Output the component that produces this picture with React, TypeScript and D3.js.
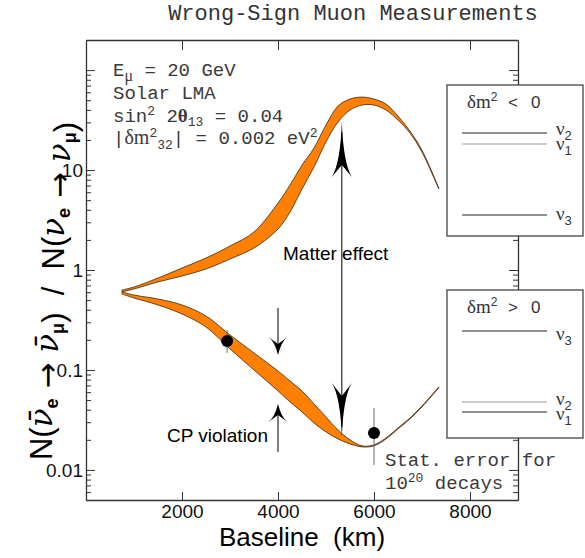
import React, { useRef, useEffect } from 'react';
import * as d3 from 'd3';

// Baseline grid (km) shared by both bands
const baselineKm = [750, 1000, 1500, 2000, 2500, 3000, 3500, 4000, 4250, 4500, 4750, 5000, 5250, 5500, 5750, 6000, 6250, 6500, 6750, 7000, 7350];

// dm^2 < 0 band (upper)
const invertedHigh = [0.63, 0.676, 0.832, 1.047, 1.318, 1.738, 2.4, 4.68, 7.08, 11.2, 16.6, 28.2, 43.7, 51.3, 53.7, 51.3, 45.7, 34.7, 24.5, 15.8, 6.6];
const invertedLow = [0.603, 0.646, 0.759, 0.871, 1.023, 1.288, 1.66, 2.57, 3.8, 6.46, 10.7, 19.1, 30.2, 39.8, 44.7, 44.7, 39.8, 31.6, 23.4, 15.1, 6.46];

// dm^2 > 0 band (lower)
const normalHigh = [0.603, 0.562, 0.513, 0.447, 0.347, 0.224, 0.148, 0.0977, 0.0776, 0.0617, 0.0457, 0.0339, 0.0251, 0.02, 0.0174, 0.0178, 0.0209, 0.0263, 0.0331, 0.0437, 0.0676];
const normalLow = [0.575, 0.525, 0.447, 0.363, 0.269, 0.162, 0.1, 0.0617, 0.0479, 0.038, 0.0295, 0.024, 0.0204, 0.0182, 0.017, 0.0174, 0.0204, 0.0257, 0.0324, 0.0427, 0.0661];

// measured points with stat. errors
const measuredKm = [2940, 6000];
const measuredRatio = [0.195, 0.0234];
const measuredErrLow = [0.148, 0.0112];
const measuredErrHigh = [0.25, 0.0417];

// annotation arrows
const matterArrowKm = 5330;
const matterArrowSpan = [0.0214, 30.2];
const cpArrowKm = 4000;
const cpDownArrow = [0.417, 0.141];
const cpUpArrow = [0.0151, 0.0457];

const xTicks = [2000, 4000, 6000, 8000];
const yTickLabels = [0.01, 0.1, 1, 10];

const SANS = '"Liberation Sans", Arial, sans-serif';
const MONO = '"Liberation Mono", "DejaVu Sans Mono", monospace';
const SERIF = '"Liberation Serif", "DejaVu Serif", serif';
const GREEK = '"DejaVu Serif", serif';

const headPath = (tx, ty, dir, L, W, N, bend) => {
  // dir = 1: head points down (base above tip); dir = -1: points up
  const by = ty - dir * L;
  const ny = ty - dir * N;
  const cy = ty - dir * L * 0.75;
  return `M${tx},${ty} Q${tx - W * bend},${cy} ${tx - W},${by} L${tx},${ny} L${tx + W},${by} Q${tx + W * bend},${cy} ${tx},${ty} Z`;
};

const App = () => {
  const svgRef = useRef(null);

  useEffect(() => {
    const svg = d3.select(svgRef.current);
    svg.selectAll('*').remove();

    const width = 585;
    const height = 558;
    const margin = { top: 40, right: 67, bottom: 58, left: 86 };
    const plotBottom = height - margin.bottom;
    const plotRight = width - margin.right;

    const x = d3.scaleLinear().domain([0, 9000]).range([margin.left, plotRight]);
    const y = d3.scaleLog().domain([0.005, 200]).range([plotBottom, margin.top]);

    // Bands
    const area = d3
      .area()
      .x((d) => x(d.km))
      .y0((d) => y(d.lo))
      .y1((d) => y(d.hi))
      .curve(d3.curveCatmullRom);

    const bands = [
      baselineKm.map((km, i) => ({ km, hi: invertedHigh[i], lo: invertedLow[i] })),
      baselineKm.map((km, i) => ({ km, hi: normalHigh[i], lo: normalLow[i] })),
    ];
    svg
      .append('g')
      .selectAll('path')
      .data(bands)
      .enter()
      .append('path')
      .attr('d', area)
      .attr('fill', '#ff8000')
      .attr('stroke', '#3a2a1a')
      .attr('stroke-width', 0.8);

    // Title
    svg
      .append('text')
      .attr('x', 353)
      .attr('y', 20)
      .attr('text-anchor', 'middle')
      .style('font-family', MONO)
      .style('font-size', '22px')
      .attr('fill', '#333')
      .text('Wrong-Sign Muon Measurements');

    // Parameter text block
    const params = svg
      .append('g')
      .style('font-family', MONO)
      .style('font-size', '19px')
      .style('white-space', 'pre')
      .attr('fill', '#3a3a3a');

    const l1 = params.append('text').attr('x', 113).attr('y', 76);
    l1.append('tspan').text('E');
    l1.append('tspan').attr('dy', 5).style('font-family', SERIF).style('font-size', '16px').text('μ');
    l1.append('tspan').attr('dy', -5).text(' = 20 GeV');

    params.append('text').attr('x', 113).attr('y', 99).text('Solar LMA');

    const l3 = params.append('text').attr('x', 113).attr('y', 122);
    l3.append('tspan').text('sin');
    l3.append('tspan').attr('dy', -7).style('font-size', '13px').text('2');
    l3.append('tspan').attr('dy', 7).text(' 2');
    l3.append('tspan').style('font-family', SERIF).style('font-weight', 'bold').text('θ');
    l3.append('tspan').attr('dy', 4).style('font-size', '13px').text('13');
    l3.append('tspan').attr('dy', -4).text(' = 0.04');

    const l4 = params.append('text').attr('x', 113).attr('y', 144);
    l4.append('tspan').text('|');
    l4.append('tspan').style('font-family', SERIF).style('font-size', '20px').text('δm');
    l4.append('tspan').attr('dy', -7).style('font-size', '13px').text('2');
    l4.append('tspan').attr('dy', 12).style('font-size', '13px').text('32');
    l4.append('tspan').attr('dy', -5).text('| = 0.002 eV');
    l4.append('tspan').attr('dy', -7).style('font-size', '13px').text('2');

    // Measured points
    svg
      .append('g')
      .selectAll('line')
      .data(measuredKm)
      .enter()
      .append('line')
      .attr('x1', (d) => x(d))
      .attr('x2', (d) => x(d))
      .attr('y1', (_, i) => y(measuredErrLow[i]))
      .attr('y2', (_, i) => y(measuredErrHigh[i]))
      .attr('stroke', '#666')
      .attr('stroke-width', 1);
    svg
      .append('g')
      .selectAll('circle')
      .data(measuredKm)
      .enter()
      .append('circle')
      .attr('cx', (d) => x(d))
      .attr('cy', (_, i) => y(measuredRatio[i]))
      .attr('r', 6)
      .attr('fill', '#000');

    // Matter effect arrow
    const mx = x(matterArrowKm);
    const mLo = y(matterArrowSpan[0]);
    const mHi = y(matterArrowSpan[1]);
    svg.append('line').attr('x1', mx).attr('x2', mx).attr('y1', mHi + 10).attr('y2', mLo - 10).attr('stroke', '#000').attr('stroke-width', 1);
    svg.append('path').attr('d', headPath(mx, mHi, -1, 55, 10, 43, 0.15)).attr('fill', '#000');
    svg.append('path').attr('d', headPath(mx, mLo, 1, 54, 10, 41, 0.15)).attr('fill', '#000');

    // CP violation arrows
    const cx = x(cpArrowKm);
    svg.append('line').attr('x1', cx).attr('x2', cx).attr('y1', y(cpDownArrow[0])).attr('y2', y(cpDownArrow[1]) - 6).attr('stroke', '#000');
    svg.append('path').attr('d', headPath(cx, y(cpDownArrow[1]), 1, 18, 9.5, 11, 0.35)).attr('fill', '#000');
    svg.append('line').attr('x1', cx).attr('x2', cx).attr('y1', y(cpUpArrow[0])).attr('y2', y(cpUpArrow[1]) + 6).attr('stroke', '#000');
    svg.append('path').attr('d', headPath(cx, y(cpUpArrow[1]), -1, 18, 9.5, 11, 0.35)).attr('fill', '#000');

    // Annotation labels
    svg
      .append('text')
      .attr('x', 283)
      .attr('y', 260)
      .style('font-family', SANS)
      .style('font-size', '19px')
      .style('white-space', 'pre')
      .text('Matter effect');
    svg
      .append('text')
      .attr('x', 268)
      .attr('y', 442)
      .attr('text-anchor', 'end')
      .style('font-family', SANS)
      .style('font-size', '19px')
      .text('CP violation');

    const stat = svg
      .append('g')
      .style('font-family', MONO)
      .style('font-size', '19px')
      .style('white-space', 'pre')
      .attr('fill', '#3a3a3a');
    stat.append('text').attr('x', 385).attr('y', 466).text('Stat. error for');
    const s2 = stat.append('text').attr('x', 385).attr('y', 489);
    s2.append('tspan').text('10');
    s2.append('tspan').attr('dy', -7).style('font-size', '13px').text('20');
    s2.append('tspan').attr('dy', 7).text(' decays');

    // Axes
    const axisColor = '#333';
    const isDecade = (d) => Math.abs(Math.log10(d) - Math.round(Math.log10(d))) < 1e-6;
    const yTicks = y.ticks();

    const styleAxis = (g) => {
      g.select('.domain').attr('stroke', axisColor).attr('stroke-width', 1.3);
      g.selectAll('.tick line').attr('stroke', axisColor).attr('stroke-width', 1);
      g.selectAll('.tick text').style('font-family', SANS).style('font-size', '19px').attr('fill', '#111');
    };

    svg
      .append('g')
      .attr('transform', `translate(0,${plotBottom})`)
      .call(d3.axisBottom(x).tickValues(xTicks).tickSizeInner(-8).tickSizeOuter(0).tickPadding(5).tickFormat(d3.format('d')))
      .call(styleAxis);

    svg
      .append('g')
      .attr('transform', `translate(0,${margin.top})`)
      .call(d3.axisTop(x).tickValues(xTicks).tickSizeInner(-10).tickSizeOuter(0).tickFormat(() => ''))
      .call(styleAxis);

    const left = svg
      .append('g')
      .attr('transform', `translate(${margin.left},0)`)
      .call(
        d3
          .axisLeft(y)
          .tickValues(yTicks)
          .tickSizeInner(-5)
          .tickSizeOuter(0)
          .tickPadding(3)
          .tickFormat((d) => (yTickLabels.some((v) => Math.abs(v - d) < 1e-9) ? d3.format('~g')(d) : ''))
      )
      .call(styleAxis);
    left.selectAll('.tick line').attr('x2', (d) => (isDecade(d) ? 9 : 5));

    const right = svg
      .append('g')
      .attr('transform', `translate(${plotRight},0)`)
      .call(d3.axisRight(y).tickValues(yTicks).tickSizeInner(-5).tickSizeOuter(0).tickFormat(() => ''))
      .call(styleAxis);
    right.selectAll('.tick line').attr('x2', (d) => (isDecade(d) ? -9 : -5));

    // Axis titles
    svg
      .append('text')
      .attr('x', 302)
      .attr('y', 546)
      .attr('text-anchor', 'middle')
      .style('font-family', SANS)
      .style('font-size', '26px')
      .style('white-space', 'pre')
      .text('Baseline  (km)');

    const yl = svg
      .append('text')
      .attr('transform', 'translate(52,291) rotate(-90)')
      .attr('text-anchor', 'middle')
      .style('font-family', SANS)
      .style('font-size', '31px')
      .style('white-space', 'pre')
      .attr('fill', '#000');
    const nu = (sel, bar) =>
      sel.append('tspan').style('font-family', GREEK).style('font-style', 'italic').text(bar ? 'ν\u0304' : 'ν');
    const sub = (sel, t) => {
      sel.append('tspan').attr('dy', 6).style('font-size', '18px').style('font-weight', 'bold').text(t);
      sel.append('tspan').attr('dy', -6).text('');
    };
    const arrow = (sel) => sel.append('tspan').style('font-family', '"DejaVu Sans", sans-serif').text(' → ');
    yl.append('tspan').text('N(');
    nu(yl, true);
    sub(yl, 'e');
    arrow(yl);
    nu(yl, true);
    sub(yl, 'μ');
    yl.append('tspan').text(')  /  N(');
    nu(yl, false);
    sub(yl, 'e');
    arrow(yl);
    nu(yl, false);
    sub(yl, 'μ');
    yl.append('tspan').text(')');

    // Mass hierarchy boxes
    const boxes = [
      {
        top: 85,
        h: 151,
        sign: '<',
        lines: [
          { y: 133, c: '#222', label: '2', ly: 135 },
          { y: 144, c: '#999', label: '1', ly: 150 },
          { y: 215, c: '#222', label: '3', ly: 220 },
        ],
      },
      {
        top: 290,
        h: 148,
        sign: '>',
        lines: [
          { y: 331, c: '#222', label: '3', ly: 340 },
          { y: 402, c: '#999', label: '2', ly: 405 },
          { y: 412, c: '#222', label: '1', ly: 420 },
        ],
      },
    ];
    boxes.forEach((b) => {
      const g = svg.append('g');
      g.append('rect')
        .attr('x', 447)
        .attr('y', b.top)
        .attr('width', 136)
        .attr('height', b.h)
        .attr('fill', '#fff')
        .attr('stroke', '#444')
        .attr('stroke-width', 1.3);
      const t = g.append('text').attr('x', 467).attr('y', b.top + 23).attr('fill', '#333');
      t.append('tspan').style('font-family', SERIF).style('font-size', '19px').text('δm');
      t.append('tspan').attr('dy', -7).style('font-family', SANS).style('font-size', '12px').text('2');
      g.append('text').attr('x', 508).attr('y', b.top + 23).style('font-family', SANS).style('font-size', '17px').attr('fill', '#333').text(b.sign);
      g.append('text').attr('x', 531).attr('y', b.top + 23).style('font-family', SANS).style('font-size', '17px').attr('fill', '#333').text('0');
      b.lines.forEach((l) => {
        g.append('line').attr('x1', 462).attr('x2', 547).attr('y1', l.y).attr('y2', l.y).attr('stroke', l.c).attr('stroke-width', 1.2);
        const lt = g.append('text').attr('x', 556).attr('y', l.ly).attr('fill', '#333');
        lt.append('tspan').style('font-family', SERIF).style('font-size', '19px').text('ν');
        lt.append('tspan').attr('dy', 5).style('font-family', SANS).style('font-size', '13px').text(l.label);
      });
    });
  }, []);

  return <svg ref={svgRef} width={585} height={558} style={{ position: 'absolute', left: 0, top: 0, background: '#fff' }} />;
};

export default App;
